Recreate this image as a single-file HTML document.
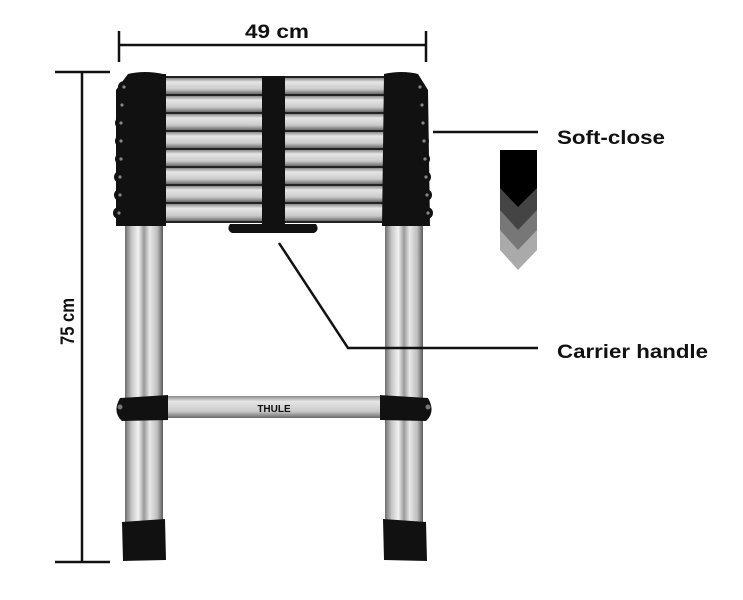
<!DOCTYPE html>
<html><head><meta charset="utf-8"><style>
html,body{margin:0;padding:0;background:#fff;width:743px;height:600px;overflow:hidden}
svg{display:block}
text{font-family:"Liberation Sans",sans-serif;font-weight:bold;fill:#111}
</style></head><body>
<svg width="743" height="600" viewBox="0 0 743 600" xmlns="http://www.w3.org/2000/svg">
<defs>
<linearGradient id="tube" x1="0" x2="1" y1="0" y2="0">
<stop offset="0" stop-color="#6e6e6e"/><stop offset="0.18" stop-color="#c8c8c8"/><stop offset="0.35" stop-color="#f2f2f2"/><stop offset="0.5" stop-color="#9a9a9a"/><stop offset="0.65" stop-color="#e8e8e8"/><stop offset="0.85" stop-color="#bdbdbd"/><stop offset="1" stop-color="#5a5a5a"/>
</linearGradient>
<linearGradient id="rung" x1="0" x2="0" y1="0" y2="1">
<stop offset="0" stop-color="#8a8a8a"/><stop offset="0.25" stop-color="#e6e6e6"/><stop offset="0.7" stop-color="#c9c9c9"/><stop offset="1" stop-color="#6a6a6a"/>
</linearGradient>
</defs>
<g stroke="#111" stroke-width="2.5">
<line x1="119" y1="45" x2="426" y2="45"/>
<line x1="119" y1="31" x2="119" y2="62"/>
<line x1="426" y1="31" x2="426" y2="62"/>
<line x1="82" y1="72" x2="82" y2="562"/>
<line x1="55" y1="72" x2="110" y2="72"/>
<line x1="55" y1="562" x2="110" y2="562"/>
<line x1="433" y1="132" x2="538" y2="132"/>
</g>
<text x="245" y="38" font-size="19" textLength="64" lengthAdjust="spacingAndGlyphs">49 cm</text>
<text transform="translate(74,345) rotate(-90)" font-size="19" textLength="47" lengthAdjust="spacingAndGlyphs">75 cm</text>
<text x="557" y="144" font-size="19" textLength="108" lengthAdjust="spacingAndGlyphs">Soft-close</text>
<text x="557" y="358" font-size="19" textLength="151" lengthAdjust="spacingAndGlyphs">Carrier handle</text>
<polygon points="500,150 537,150 537,250 518,270 500,250" fill="#aaa"/>
<polygon points="500,150 537,150 537,230 518,250 500,230" fill="#777"/>
<polygon points="500,150 537,150 537,210 518,230 500,210" fill="#444"/>
<polygon points="500,150 537,150 537,188 518,207 500,188" fill="#000"/>
<rect x="125" y="224" width="38" height="300" fill="url(#tube)"/>
<rect x="385" y="224" width="38" height="300" fill="url(#tube)"/>
<path d="M122,522 L165,519 L166,560 L123,561 Z" fill="#111"/>
<path d="M383,519 L426,522 L427,561 L384,560 Z" fill="#111"/>
<rect x="165" y="396" width="218" height="22" fill="url(#rung)"/>
<text x="274" y="412" font-size="10" text-anchor="middle" font-weight="900" fill="#000">THULE</text>
<path d="M120,398 L168,395 L168,420 L122,421 Q112,412 120,398 Z" fill="#111"/>
<circle cx="120" cy="407" r="2.5" fill="#777"/>
<path d="M380,395 L428,398 Q436,412 426,421 L380,420 Z" fill="#111"/>
<circle cx="428" cy="407" r="2.5" fill="#777"/>
<g>
<rect x="160" y="76" width="230" height="147" fill="#222"/>
<rect x="160" y="78" width="230" height="16" fill="url(#rung)"/>
<rect x="160" y="96" width="230" height="16" fill="url(#rung)"/>
<rect x="160" y="114" width="230" height="16" fill="url(#rung)"/>
<rect x="160" y="132" width="230" height="16" fill="url(#rung)"/>
<rect x="160" y="150" width="230" height="16" fill="url(#rung)"/>
<rect x="160" y="168" width="230" height="16" fill="url(#rung)"/>
<rect x="160" y="186" width="230" height="16" fill="url(#rung)"/>
<rect x="160" y="204" width="230" height="17" fill="url(#rung)"/>
</g>
<rect x="262" y="76" width="23" height="152" fill="#111"/>
<path d="M230,224 L316,224 Q320,230 314,233 L232,233 Q226,230 230,224 Z" fill="#111"/>
<path d="M128,74 Q145,70 163,74 L165,226 L116,226 L116,90 Z" fill="#111"/>
<rect x="163" y="74" width="3" height="152" fill="#111"/>
<g fill="#111">
<circle cx="124" cy="87" r="6"/><circle cx="122" cy="105" r="6"/><circle cx="121" cy="123" r="6"/><circle cx="121" cy="141" r="6"/><circle cx="121" cy="159" r="6"/><circle cx="120" cy="177" r="6"/><circle cx="120" cy="195" r="6"/><circle cx="119" cy="213" r="6"/>
</g>
<g fill="#888">
<circle cx="124" cy="87" r="1.6"/><circle cx="122" cy="105" r="1.6"/><circle cx="121" cy="123" r="1.6"/><circle cx="121" cy="141" r="1.6"/><circle cx="121" cy="159" r="1.6"/><circle cx="120" cy="177" r="1.6"/><circle cx="120" cy="195" r="1.6"/><circle cx="119" cy="213" r="1.6"/>
</g>
<path d="M384,74 Q402,70 418,74 L428,90 L430,226 L382,226 Z" fill="#111"/>
<g fill="#111">
<circle cx="419" cy="87" r="6"/><circle cx="421" cy="105" r="6"/><circle cx="422" cy="123" r="6"/><circle cx="423" cy="141" r="6"/><circle cx="424" cy="159" r="6"/><circle cx="425" cy="177" r="6"/><circle cx="426" cy="195" r="6"/><circle cx="427" cy="213" r="6"/>
</g>
<g fill="#888">
<circle cx="420" cy="87" r="1.6"/><circle cx="422" cy="105" r="1.6"/><circle cx="423" cy="123" r="1.6"/><circle cx="424" cy="141" r="1.6"/><circle cx="425" cy="159" r="1.6"/><circle cx="426" cy="177" r="1.6"/><circle cx="427" cy="195" r="1.6"/><circle cx="428" cy="213" r="1.6"/>
</g>
<polyline fill="none" stroke="#111" stroke-width="2.5" points="279,243 348,348 538,348"/>
</svg>
</body></html>
